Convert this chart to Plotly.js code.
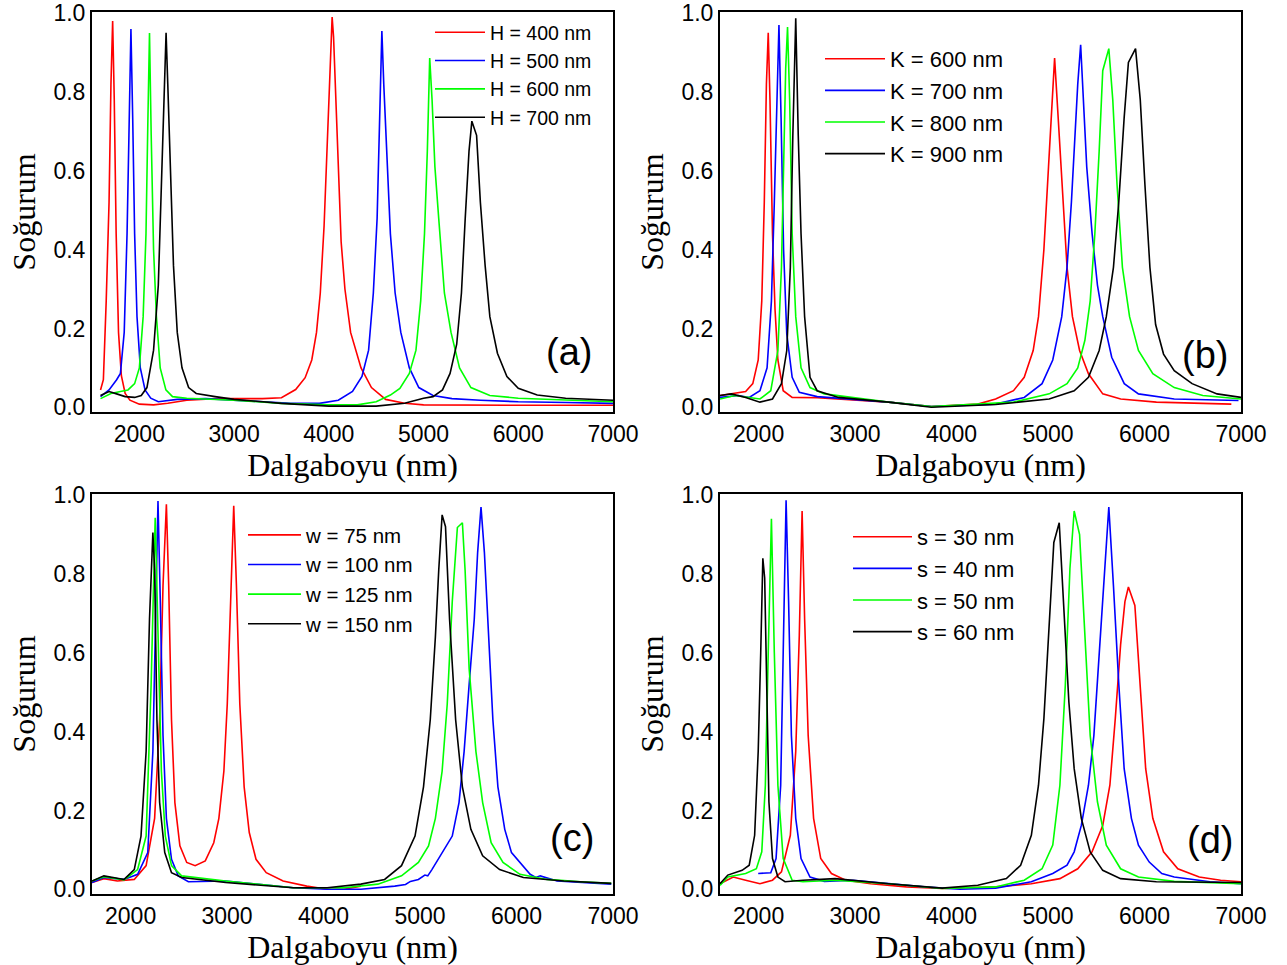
<!DOCTYPE html>
<html>
<head>
<meta charset="utf-8">
<script src="https://cdn.plot.ly/plotly-3.0.1.min.js"></script>
<style>html,body{margin:0;padding:0;background:#fff;}#chart{width:1287px;height:965px;}</style>
</head>
<body>
<div id="chart"></div>
<script>
// ---------- Panel (a): H series ----------
const aNames = ["H = 400 nm", "H = 500 nm", "H = 600 nm", "H = 700 nm"];
const aX_H400 = [1590,1620,1650,1680,1700,1718,1735,1755,1780,1810,1850,1900,2000,2150,2300,2500,2800,3100,3300,3500,3650,3750,3820,3870,3910,3950,3980,4005,4020,4035,4050,4070,4100,4130,4170,4230,4340,4450,4600,4800,5000,5500,6000,6500,7000];
const aY_H400 = [0.044,0.07,0.27,0.52,0.82,0.98,0.78,0.44,0.19,0.08,0.035,0.018,0.008,0.006,0.01,0.018,0.022,0.022,0.022,0.024,0.045,0.075,0.12,0.19,0.29,0.46,0.65,0.85,0.94,0.99,0.94,0.82,0.6,0.42,0.3,0.19,0.1,0.05,0.02,0.01,0.006,0.005,0.005,0.005,0.005];
const aX_H500 = [1590,1680,1760,1800,1840,1870,1890,1911,1930,1950,1975,2010,2060,2120,2200,2400,2700,3000,3300,3600,3900,4100,4250,4350,4420,4470,4510,4540,4560,4580,4610,4650,4700,4760,4850,4950,5100,5300,5600,6000,6500,7000];
const aY_H500 = [0.027,0.044,0.07,0.086,0.19,0.44,0.69,0.96,0.73,0.44,0.23,0.10,0.044,0.023,0.014,0.02,0.022,0.018,0.014,0.01,0.01,0.018,0.04,0.078,0.145,0.29,0.48,0.73,0.955,0.82,0.65,0.44,0.29,0.19,0.10,0.05,0.03,0.022,0.018,0.014,0.012,0.01];
const aX_H600 = [1590,1700,1800,1880,1950,2000,2040,2070,2090,2107,2125,2150,2180,2220,2280,2350,2500,3000,3500,4000,4300,4500,4650,4750,4850,4920,4970,5010,5040,5065,5090,5120,5160,5220,5290,5380,5500,5700,6000,6500,7000];
const aY_H600 = [0.022,0.035,0.04,0.044,0.06,0.10,0.23,0.44,0.73,0.95,0.69,0.40,0.23,0.10,0.044,0.027,0.023,0.018,0.01,0.006,0.006,0.014,0.031,0.048,0.086,0.145,0.27,0.44,0.65,0.886,0.78,0.61,0.48,0.29,0.19,0.10,0.05,0.03,0.023,0.018,0.014];
const aX_H700 = [1590,1680,1760,1850,1950,2020,2080,2150,2200,2240,2265,2282,2300,2330,2360,2400,2450,2520,2600,2800,3000,3500,4000,4500,4800,5000,5100,5200,5280,5350,5400,5440,5480,5510,5560,5600,5650,5700,5780,5880,6000,6200,6500,7000];
const aY_H700 = [0.03,0.04,0.034,0.027,0.025,0.03,0.05,0.145,0.31,0.61,0.82,0.95,0.82,0.61,0.36,0.19,0.10,0.05,0.035,0.027,0.02,0.01,0.003,0.003,0.01,0.023,0.027,0.044,0.086,0.16,0.29,0.48,0.65,0.726,0.69,0.52,0.36,0.23,0.137,0.078,0.048,0.031,0.023,0.018];

// ---------- Panel (b): K series ----------
const bNames = ["K = 600 nm", "K = 700 nm", "K = 800 nm", "K = 900 nm"];
const bX_K600 = [1600,1718,1866,1940,1996,2033,2059,2081,2100,2118,2144,2170,2200,2255,2348,2607,3347,3791,4272,4457,4642,4753,4846,4901,4957,5005,5042,5068,5105,5153,5197,5253,5327,5419,5567,5753,6123,6900];
const bY_K600 = [0.03,0.034,0.04,0.06,0.12,0.27,0.52,0.82,0.95,0.78,0.44,0.25,0.12,0.042,0.025,0.024,0.013,0.002,0.008,0.021,0.042,0.076,0.144,0.23,0.40,0.61,0.78,0.886,0.735,0.52,0.355,0.23,0.144,0.085,0.034,0.021,0.013,0.008];
const bX_K700 = [1600,1792,1903,2014,2088,2133,2163,2188,2211,2233,2259,2292,2348,2422,2607,3347,3791,4457,4753,4938,5049,5142,5197,5242,5279,5308,5338,5364,5401,5457,5512,5567,5660,5790,5937,6308,6974];
const bY_K700 = [0.025,0.03,0.025,0.042,0.10,0.27,0.52,0.78,0.97,0.735,0.40,0.186,0.076,0.038,0.027,0.013,0.002,0.008,0.025,0.06,0.12,0.23,0.355,0.52,0.69,0.82,0.92,0.78,0.61,0.44,0.31,0.23,0.127,0.06,0.034,0.021,0.017];
const bX_K800 = [1600,1755,1903,2014,2126,2200,2237,2262,2281,2300,2322,2348,2385,2440,2533,2681,3347,3791,4642,5012,5197,5308,5382,5437,5485,5530,5567,5630,5671,5715,5771,5845,5937,6086,6308,6604,7000];
const bY_K800 = [0.021,0.03,0.025,0.021,0.042,0.144,0.355,0.61,0.86,0.965,0.78,0.44,0.23,0.10,0.05,0.034,0.013,0.002,0.013,0.034,0.06,0.10,0.17,0.27,0.44,0.65,0.854,0.91,0.78,0.566,0.355,0.23,0.144,0.085,0.05,0.03,0.021];
const bX_K900 = [1600,1718,1866,2014,2144,2237,2292,2329,2355,2385,2411,2440,2477,2533,2607,2829,3347,3791,4457,5012,5271,5419,5530,5604,5678,5733,5789,5833,5907,5956,6004,6056,6115,6197,6308,6493,6752,7000];
const bY_K900 = [0.03,0.034,0.025,0.013,0.021,0.06,0.144,0.355,0.69,0.987,0.69,0.44,0.23,0.076,0.042,0.025,0.013,0.0,0.007,0.021,0.042,0.076,0.144,0.23,0.355,0.52,0.735,0.875,0.91,0.78,0.566,0.355,0.21,0.135,0.093,0.06,0.034,0.025];

// ---------- Panel (c): w series ----------
const cNames = ["w = 75 nm", "w = 100 nm", "w = 125 nm", "w = 150 nm"];
const cX_W75 = [1600,1723,1863,2038,2161,2249,2301,2336,2371,2395,2424,2459,2511,2582,2669,2774,2862,2915,2967,3002,3037,3069,3097,3132,3177,3230,3300,3406,3581,3826,4037,4212,4387];
const cY_W75 = [0.017,0.027,0.021,0.025,0.06,0.18,0.43,0.77,0.977,0.77,0.43,0.22,0.11,0.068,0.06,0.072,0.118,0.18,0.30,0.47,0.73,0.973,0.77,0.47,0.26,0.144,0.076,0.042,0.021,0.008,0.0,0.0,0.008];
const cX_W100 = [1600,1723,1933,2073,2178,2231,2259,2284,2308,2336,2371,2424,2494,2599,2985,3335,3686,4037,4387,4738,4850,4900,4983,5050,5080,5123,5229,5334,5404,5457,5509,5562,5597,5632,5667,5702,5755,5807,5878,5948,6036,6141,6200,6246,6421,6667,6982];
const cY_W100 = [0.017,0.03,0.025,0.038,0.093,0.35,0.685,0.985,0.73,0.39,0.18,0.076,0.034,0.019,0.021,0.013,0.004,0.0,0.0,0.008,0.012,0.02,0.025,0.036,0.034,0.05,0.093,0.135,0.22,0.35,0.52,0.685,0.855,0.97,0.855,0.685,0.43,0.26,0.152,0.093,0.068,0.038,0.03,0.034,0.021,0.017,0.013];
const cX_W125 = [1600,1723,1933,2073,2161,2213,2255,2284,2319,2360,2424,2529,2985,3686,4212,4563,4808,4983,5088,5159,5229,5282,5334,5387,5439,5467,5509,5579,5649,5737,5860,6036,6316,6667,6982];
const cY_W125 = [0.021,0.032,0.024,0.05,0.135,0.52,0.943,0.64,0.30,0.135,0.06,0.034,0.021,0.004,0.004,0.013,0.034,0.068,0.11,0.18,0.30,0.47,0.73,0.918,0.93,0.81,0.56,0.35,0.22,0.118,0.068,0.038,0.025,0.019,0.015];
const cX_W150 = [1600,1723,1933,2038,2108,2161,2196,2231,2249,2273,2301,2354,2424,2529,2985,3686,4037,4387,4633,4808,4948,5036,5106,5159,5194,5229,5264,5306,5369,5439,5527,5649,5825,6071,6491,6982];
const cY_W150 = [0.021,0.034,0.025,0.05,0.135,0.35,0.685,0.905,0.81,0.43,0.22,0.093,0.042,0.03,0.017,0.004,0.004,0.013,0.025,0.06,0.135,0.26,0.43,0.64,0.81,0.95,0.92,0.685,0.43,0.26,0.152,0.085,0.05,0.03,0.021,0.015];

// ---------- Panel (d): s series ----------
const dNames = ["s = 30 nm", "s = 40 nm", "s = 50 nm", "s = 60 nm"];
const dX_S30 = [1600,1737,1866,2014,2144,2237,2329,2385,2422,2451,2477,2514,2570,2644,2755,2903,3162,3532,3902,4457,4827,5123,5308,5456,5567,5641,5697,5752,5797,5833,5900,5956,6012,6086,6197,6345,6567,6789,7000];
const dY_S30 = [0.014,0.031,0.023,0.014,0.023,0.044,0.137,0.35,0.645,0.96,0.687,0.39,0.18,0.078,0.04,0.023,0.014,0.006,0.002,0.006,0.014,0.027,0.052,0.095,0.162,0.264,0.433,0.62,0.73,0.767,0.72,0.518,0.306,0.18,0.095,0.052,0.031,0.023,0.019];
const dX_S40 = [1996,2126,2181,2229,2255,2285,2311,2340,2385,2440,2533,2681,2977,3347,3717,4087,4457,4827,5049,5197,5271,5345,5419,5475,5530,5586,5630,5678,5734,5789,5864,5937,6049,6179,6308,6678,7000];
const dY_S40 = [0.04,0.042,0.078,0.264,0.60,0.987,0.73,0.39,0.18,0.078,0.031,0.02,0.023,0.014,0.006,0.0,0.003,0.019,0.04,0.061,0.095,0.162,0.264,0.39,0.60,0.814,0.97,0.77,0.518,0.306,0.18,0.112,0.069,0.04,0.031,0.019,0.014];
const dX_S50 = [1600,1681,1866,1977,2033,2070,2100,2133,2163,2200,2255,2348,2459,2792,3347,3902,4457,4753,4938,5049,5123,5179,5227,5271,5327,5382,5437,5512,5604,5752,5937,6308,7000];
const dY_S50 = [0.01,0.031,0.04,0.052,0.095,0.264,0.60,0.94,0.60,0.264,0.078,0.023,0.019,0.023,0.014,0.002,0.006,0.023,0.052,0.112,0.264,0.518,0.814,0.96,0.90,0.645,0.39,0.222,0.112,0.052,0.031,0.02,0.014];
const dX_S60 = [1600,1681,1829,1903,1959,1996,2022,2044,2063,2081,2107,2144,2200,2274,2459,2792,3347,3902,4272,4568,4716,4827,4901,4957,5005,5060,5116,5160,5216,5271,5345,5437,5567,5752,6123,7000];
const dY_S60 = [0.014,0.036,0.048,0.061,0.137,0.35,0.60,0.84,0.79,0.518,0.222,0.078,0.031,0.019,0.023,0.027,0.014,0.003,0.01,0.027,0.061,0.137,0.264,0.433,0.645,0.88,0.93,0.73,0.475,0.306,0.18,0.095,0.048,0.027,0.019,0.017];

const seriesColors = ["#ff0000", "#0000ff", "#00ff00", "#000000"];
const panelLabels = ["(a)", "(b)", "(c)", "(d)"];
const xTitle = "Dalgaboyu (nm)";
const yTitle = "Soğurum";

const panels = [
  {names: aNames, xs: [aX_H400, aX_H500, aX_H600, aX_H700], ys: [aY_H400, aY_H500, aY_H600, aY_H700]},
  {names: bNames, xs: [bX_K600, bX_K700, bX_K800, bX_K900], ys: [bY_K600, bY_K700, bY_K800, bY_K900]},
  {names: cNames, xs: [cX_W75, cX_W100, cX_W125, cX_W150], ys: [cY_W75, cY_W100, cY_W125, cY_W150]},
  {names: dNames, xs: [dX_S30, dX_S40, dX_S50, dX_S60], ys: [dY_S30, dY_S40, dY_S50, dY_S60]}
];

const W = 1287, H = 965;
// plot-area pixel boxes [left, right, top, bottom]
const boxes = [[92, 613, 12, 412], [720, 1241, 12, 412], [92, 613, 494, 894], [720, 1241, 494, 894]];
const xRanges = [[1500, 7000], [1600, 7000], [1600, 7000], [1600, 7000]];
const legendPos = [
  {x: 430, y: 13, size: 19.5, iw: 50},
  {x: 820, y: 38, size: 22, iw: 60},
  {x: 243, y: 515, size: 20.5, iw: 53},
  {x: 848, y: 516, size: 22, iw: 59}
];
const labelPos = [[569, 352], [1205, 355], [572, 838], [1210, 840]];

const traces = [];
const layout = {
  width: W, height: H,
  margin: {l: 0, r: 0, t: 0, b: 0},
  paper_bgcolor: "#ffffff", plot_bgcolor: "#ffffff",
  showlegend: true,
  annotations: [],
  font: {family: "Liberation Sans, Arial, sans-serif", color: "#000"}
};

panels.forEach((p, i) => {
  const k = i === 0 ? "" : String(i + 1);
  const lg = "legend" + k;
  p.names.forEach((nm, j) => {
    traces.push({
      type: "scatter", mode: "lines", name: nm,
      x: p.xs[j], y: p.ys[j],
      xaxis: "x" + k, yaxis: "y" + k, legend: lg,
      line: {color: seriesColors[j], width: 1.6}
    });
  });
  const b = boxes[i];
  const axCommon = {
    showline: true, mirror: true, linecolor: "#000", linewidth: 2,
    showgrid: false, zeroline: false, ticks: "",
    tickfont: {family: "Liberation Sans, Arial, sans-serif", size: 23, color: "#000"}
  };
  layout["xaxis" + k] = Object.assign({}, axCommon, {
    domain: [b[0] / W, b[1] / W], range: xRanges[i],
    anchor: "y" + k, tick0: 0, dtick: 1000,
    title: {text: xTitle, font: {family: "Liberation Serif, Times New Roman, serif", size: 32, color: "#000"}, standoff: 2}
  });
  layout["yaxis" + k] = Object.assign({}, axCommon, {
    domain: [1 - b[3] / H, 1 - b[2] / H], range: [-0.012, 1.003],
    anchor: "x" + k, tick0: 0, dtick: 0.2, tickformat: ".1f",
    title: {text: yTitle, font: {family: "Liberation Serif, Times New Roman, serif", size: 32, color: "#000"}, standoff: 8}
  });
  const L = legendPos[i];
  layout[lg] = {
    x: L.x / W, y: 1 - L.y / H, xanchor: "left", yanchor: "top",
    bgcolor: "rgba(0,0,0,0)", borderwidth: 0, itemwidth: L.iw,
    font: {family: "Liberation Sans, Arial, sans-serif", size: L.size, color: "#000"}
  };
  layout.annotations.push({
    text: panelLabels[i], xref: "paper", yref: "paper",
    x: labelPos[i][0] / W, y: 1 - labelPos[i][1] / H,
    xanchor: "center", yanchor: "middle", showarrow: false,
    font: {family: "Liberation Sans, Arial, sans-serif", size: 38, color: "#000"}
  });
});

Plotly.newPlot("chart", traces, layout, {displayModeBar: false, staticPlot: true});
</script>
</body>
</html>
